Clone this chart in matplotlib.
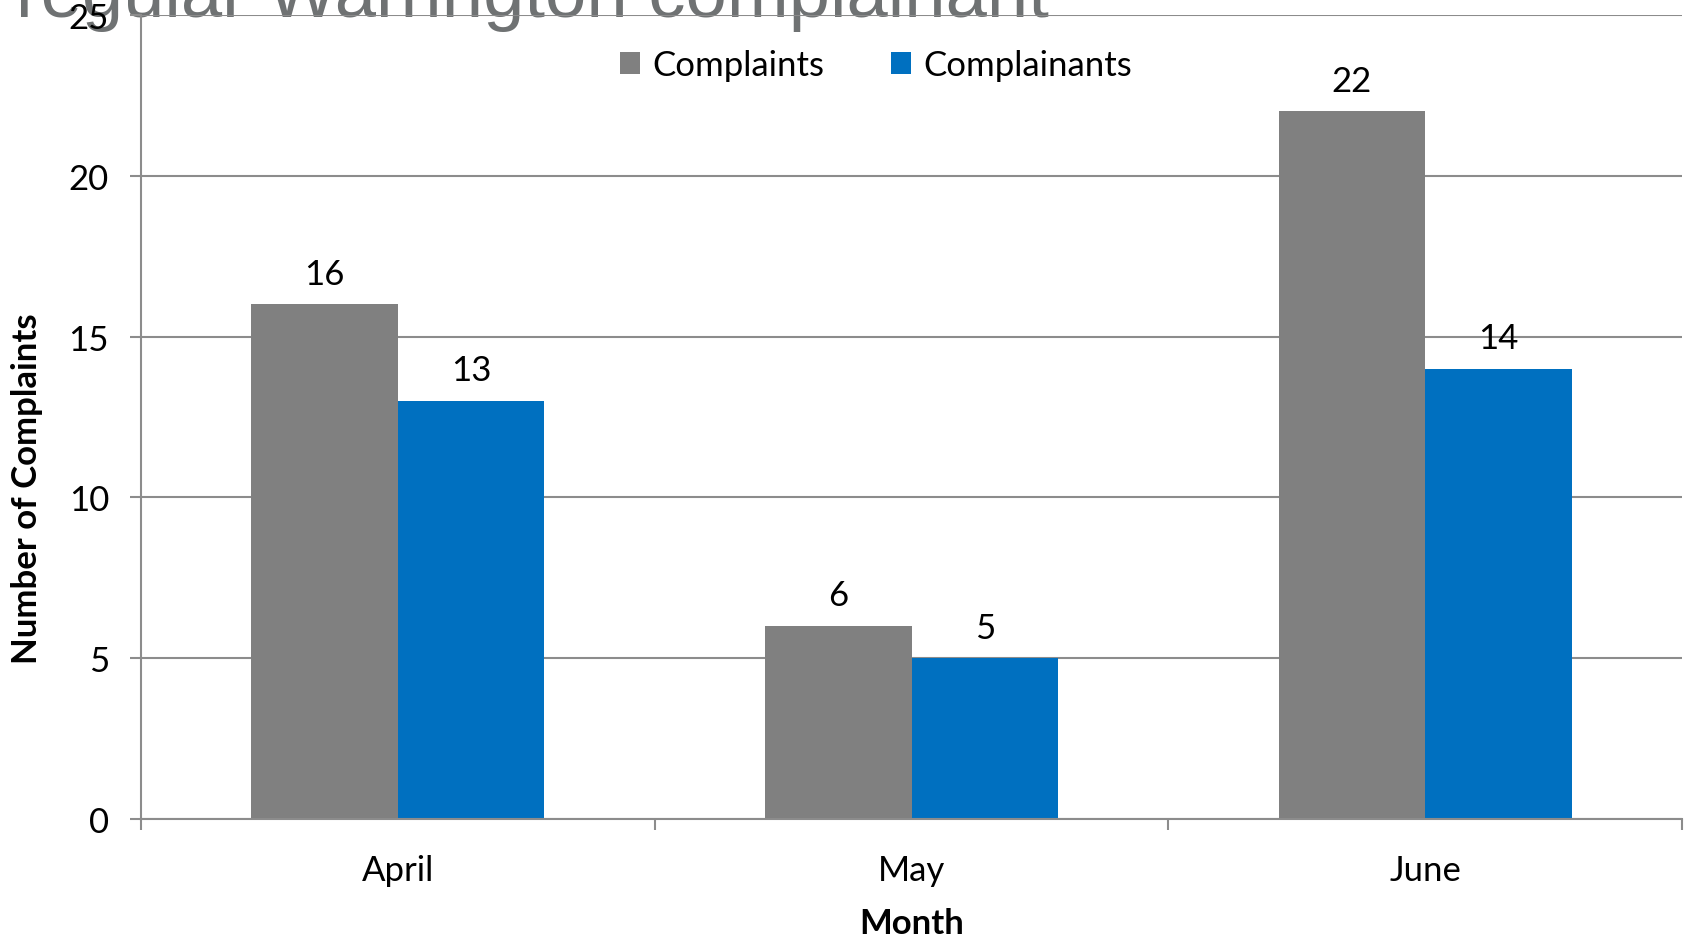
import matplotlib.pyplot as plt
import numpy as np

# data
months = ['April', 'May', 'June']
complaints = [16, 6, 22]
complainants = [13, 5, 14]
series_names = ['Complaints', 'Complainants']
yticks = [0, 5, 10, 15, 20, 25]

gray = '#808080'
blue = '#0070C0'
line_gray = '#8C8C8C'
fs = 25

plt.rcParams['font.family'] = ['Lato', 'DejaVu Sans']

fig = plt.figure(figsize=(16.84, 9.37), dpi=100)
ax = fig.add_axes([141/1684, 1 - 820/937, (1682 - 141)/1684, (820 - 16)/937])
ax.patch.set_facecolor('none')

# title cut off at the top, drawn behind the axes
fig.text(16/1684, 1 - 17/937, 'regular Warrington complainant', fontsize=53.5,
         family='Liberation Sans', color='#6F7273', ha='left', va='baseline',
         zorder=-1)

x = np.arange(len(months))
w = 0.285
b1 = ax.bar(x - w/2, complaints, w, color=gray, label=series_names[0], zorder=2)
b2 = ax.bar(x + w/2, complainants, w, color=blue, label=series_names[1], zorder=2)

for bars in (b1, b2):
    for r in bars:
        ax.annotate(f'{int(r.get_height())}', (r.get_x() + r.get_width()/2, r.get_height()),
                    xytext=(0, 22), textcoords='offset points', ha='center', va='center',
                    fontsize=fs)

ax.set_xlim(-0.5, 2.5)
ax.set_ylim(0, 25)
ax.set_yticks(yticks)
ax.yaxis.grid(True, color=line_gray, linewidth=1.5, zorder=0)
ax.set_axisbelow(True)

ax.set_xticks(x)
ax.set_xticklabels(months)
ax.set_xticks(np.arange(-0.5, 3, 1), minor=True)
ax.tick_params(axis='x', which='major', length=0, pad=25, labelsize=fs)
ax.tick_params(axis='x', which='minor', length=8, width=1.5, color=line_gray)
ax.tick_params(axis='y', length=8, width=1.5, color=line_gray, pad=15, labelsize=fs)

for s in ('top', 'right'):
    ax.spines[s].set_visible(False)
for s in ('left', 'bottom'):
    ax.spines[s].set_color(line_gray)
    ax.spines[s].set_linewidth(1.5)

fig.text(27/1684, 1 - 489/937, 'Number of Complaints', rotation=90, fontsize=fs,
         fontweight='bold', ha='center', va='center')
fig.text(912/1684, 1 - 924/937, 'Month', fontsize=fs, fontweight='bold',
         ha='center', va='center')

ax.legend(loc='center', bbox_to_anchor=(876/1684, 1 - 66/937),
          bbox_transform=fig.transFigure, ncol=2, frameon=False, fontsize=fs,
          handlelength=0.6, handleheight=0.6, handletextpad=0.35, columnspacing=1.9)

fig.savefig('out.png', dpi=100)
